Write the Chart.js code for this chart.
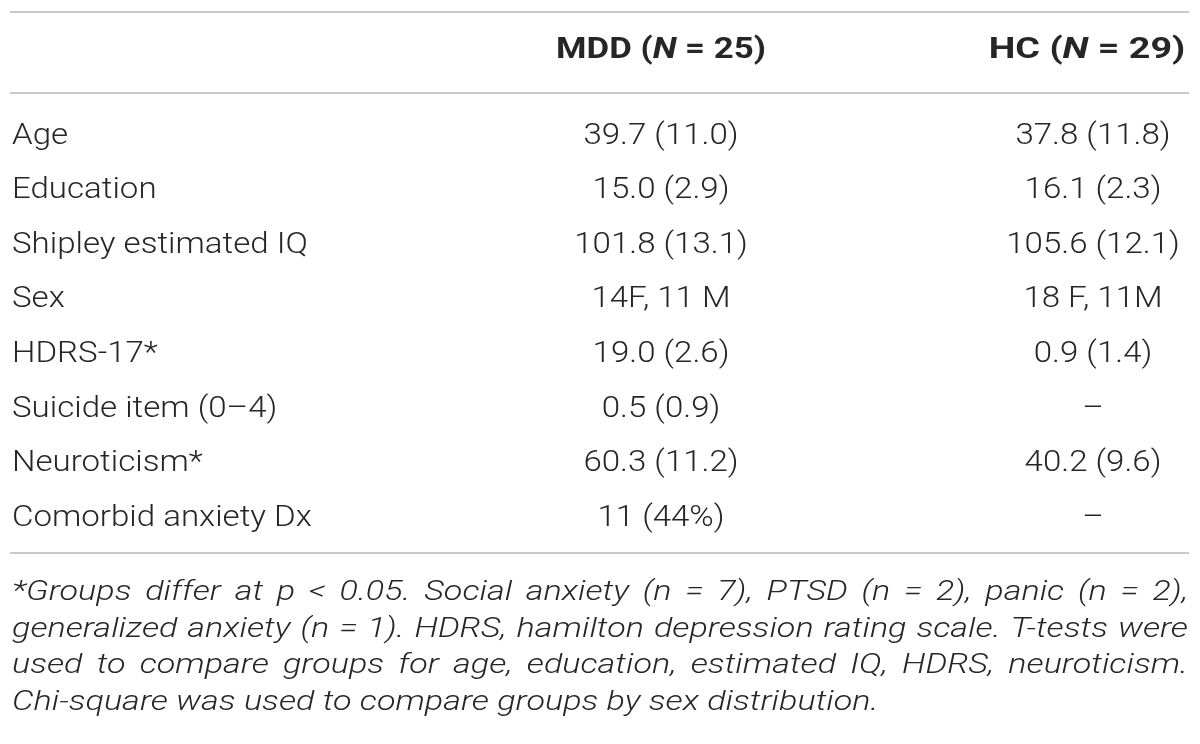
<!DOCTYPE html>
<html lang="en">
<head>
<meta charset="UTF-8">
<title>MDD vs HC demographics</title>
<script src="https://cdn.jsdelivr.net/npm/chart.js"></script>
<style>
  html, body { margin: 0; padding: 0; background: #ffffff; }
  #wrap { width: 1200px; height: 744px; }
</style>
</head>
<body>
<div id="wrap"><canvas id="tableChart" width="1200" height="744"></canvas></div>
<script>
// table contents
const rowLabels = ['Age', 'Education', 'Shipley estimated IQ', 'Sex', 'HDRS-17*',
  'Suicide item (0–4)', 'Neuroticism*', 'Comorbid anxiety Dx'];
const mddValues = ['39.7 (11.0)', '15.0 (2.9)', '101.8 (13.1)', '14F, 11 M',
  '19.0 (2.6)', '0.5 (0.9)', '60.3 (11.2)', '11 (44%)'];
const hcValues = ['37.8 (11.8)', '16.1 (2.3)', '105.6 (12.1)', '18 F, 11M',
  '0.9 (1.4)', '–', '40.2 (9.6)', '–'];
const groupNames = ['MDD', 'HC'];
const groupN = [25, 29];
const noteLines = [
  '*Groups differ at p < 0.05. Social anxiety (n = 7), PTSD (n = 2), panic (n = 2),',
  'generalized anxiety (n = 1). HDRS, hamilton depression rating scale. T-tests were',
  'used to compare groups for age, education, estimated IQ, HDRS, neuroticism.',
  'Chi-square was used to compare groups by sex distribution.'
];

// layout (values along the hidden x scale, which runs 0..1200)
const colX = { label: 12, mdd: 661, hc: 1093 };
const headX = [661, 1087];
const ruleLeft = 10, ruleRight = 1189;
const ink = '#262626';
const ruleColor = '#c9c9c9';
const FONT = 'Roboto, "Liberation Sans", sans-serif';
const bodyFont = '300 29px ' + FONT, bodySX = 1.14;
const headFont = '700 29px ' + FONT, headItFont = 'italic 700 29px ' + FONT;
const headSX = [1.2, 1.3];
const noteFont = 'italic 300 28px ' + FONT, noteSX = 1.22;

// text drawn with a horizontal stretch to get the wide look of the original face
function textW(ctx, t, font, sx) {
  ctx.font = font;
  return ctx.measureText(t).width * sx;
}
function putText(ctx, t, x, y, font, sx, align) {
  ctx.save();
  ctx.font = font;
  ctx.textAlign = align || 'left';
  ctx.translate(x, y);
  ctx.scale(sx, 1);
  ctx.fillText(t, 0, 0);
  ctx.restore();
}

const tablePlugin = {
  id: 'tablePlugin',
  afterDraw(chart) {
    const ctx = chart.ctx;
    const xs = chart.scales.x;
    const ys = chart.scales.y;

    ctx.save();
    // rules
    ctx.strokeStyle = ruleColor;
    ctx.lineWidth = 2;
    [ys.top - 97, ys.top - 16, ys.bottom + 7].forEach(r => {
      ctx.beginPath();
      ctx.moveTo(xs.getPixelForValue(ruleLeft), r);
      ctx.lineTo(xs.getPixelForValue(ruleRight), r);
      ctx.stroke();
    });

    ctx.fillStyle = ink;
    ctx.textBaseline = 'middle';

    // header
    const hy = ys.top - 58;
    headX.forEach((c, i) => {
      const sx = headSX[i];
      const parts = [[groupNames[i] + ' (', headFont], ['N', headItFont], [' = ' + groupN[i] + ')', headFont]];
      const total = parts.reduce((s, p) => s + textW(ctx, p[0], p[1], sx), 0);
      let x = xs.getPixelForValue(c) - total / 2;
      parts.forEach(p => {
        putText(ctx, p[0], x, hy, p[1], sx, 'left');
        x += textW(ctx, p[0], p[1], sx);
      });
    });

    // body cells
    rowLabels.forEach((lab, i) => {
      const cy = ys.getPixelForValue(i);
      putText(ctx, lab, xs.getPixelForValue(colX.label), cy, bodyFont, bodySX, 'left');
      putText(ctx, mddValues[i], xs.getPixelForValue(colX.mdd), cy, bodyFont, bodySX, 'center');
      putText(ctx, hcValues[i], xs.getPixelForValue(colX.hc), cy, bodyFont, bodySX, 'center');
    });

    // footnote, justified except the last line
    const left = xs.getPixelForValue(12), right = xs.getPixelForValue(1188);
    noteLines.forEach((line, k) => {
      const ly = ys.bottom + 47 + k * 36.5;
      if (k === noteLines.length - 1) {
        putText(ctx, line, left, ly, noteFont, noteSX, 'left');
        return;
      }
      const words = line.split(' ');
      const widths = words.map(w => textW(ctx, w, noteFont, noteSX));
      const sum = widths.reduce((a, b) => a + b, 0);
      const gap = (right - left - sum) / (words.length - 1);
      let x = left;
      words.forEach((w, j) => {
        putText(ctx, w, x, ly, noteFont, noteSX, 'left');
        x += widths[j] + gap;
      });
    });
    ctx.restore();
  }
};

new Chart(document.getElementById('tableChart'), {
  type: 'scatter',
  data: { datasets: [] },
  options: {
    responsive: false,
    animation: false,
    layout: { padding: { top: 109, bottom: 198, left: 0, right: 0 } },
    plugins: { legend: { display: false }, tooltip: { enabled: false } },
    scales: {
      x: { type: 'linear', min: 0, max: 1200, display: false },
      y: { type: 'category', labels: rowLabels, offset: true, display: false }
    }
  },
  plugins: [tablePlugin]
});
</script>
</body>
</html>
